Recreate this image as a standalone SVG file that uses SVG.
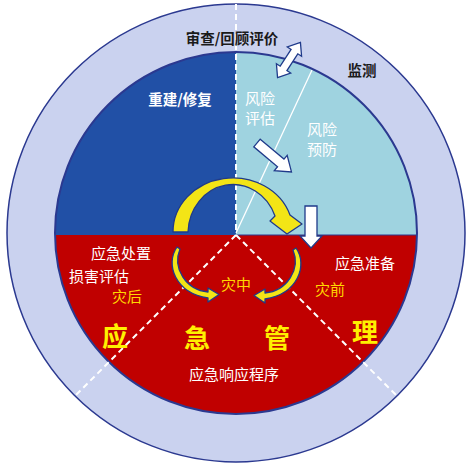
<svg xmlns="http://www.w3.org/2000/svg" width="475" height="476" viewBox="0 0 475 476">
<style>
.t{font-family:"Noto Sans CJK SC","Noto Sans",sans-serif;text-anchor:middle;dominant-baseline:central}
.w{fill:#ffffff;font-size:15px}
.wb{fill:#ffffff;font-size:14.5px;font-weight:bold}
.k{fill:#1a1a1a;font-size:14.5px;font-weight:bold}
.y{fill:#FFD800;font-size:15px}
.Y{fill:#FFF000;font-size:26px;font-weight:bold}
.dash{stroke:#ffffff;stroke-width:2;stroke-dasharray:6 4;fill:none}
.wa{fill:#ffffff;stroke:#1F3A8A;stroke-width:1.3;stroke-linejoin:miter}
.ya{fill:#F3E516;stroke:#1F3A8A;stroke-width:1.3;stroke-linejoin:round}
</style>
<defs>
<clipPath id="inner"><circle cx="236" cy="233" r="181"/></clipPath>
</defs>
<rect width="475" height="476" fill="#ffffff"/>
<g id="ring">
<circle cx="236" cy="233" r="229" fill="#CAD2EF" stroke="#2B3990" stroke-width="1.5"/>
</g>
<g id="sectors" clip-path="url(#inner)">
<rect x="0" y="235" width="475" height="241" fill="#C00000"/>
<rect x="0" y="0" width="236" height="235" fill="#2150A6"/>
<rect x="236" y="0" width="239" height="235" fill="#9FD3E0"/>
<line x1="236" y1="235" x2="418" y2="235" stroke="#2B3990" stroke-width="1"/>
<line x1="236" y1="233" x2="312.5" y2="69" stroke="#ffffff" stroke-width="1.3"/>
</g>
<circle cx="236" cy="233" r="181" fill="none" stroke="#2B3990" stroke-width="2"/>
<g id="dividers">
<line class="dash" x1="236" y1="4" x2="236" y2="234"/>
<line class="dash" x1="236" y1="235" x2="74" y2="397"/>
<line class="dash" x1="236" y1="235" x2="398" y2="397"/>
</g>
<g id="connectors">
<path class="ya" d="M173,232 A60,54 0 0 1 290,215 L302,224 L287,234 L270,221 L275,216 A45,49 0 0 0 188,232 Z"/>
<path id="small-left" class="ya" d="M177,247 C165,264 175,293 208,298 L208,302 L219,294.5 L208,288 L208,292 C186,290 172,268 180,249 Z"/>
<path class="ya" transform="translate(473,1) scale(-1,1)" d="M177,247 C165,264 175,293 208,298 L208,302 L219,294.5 L208,288 L208,292 C186,290 172,268 180,249 Z"/>
<polygon class="wa" transform="translate(289,60) rotate(-57)" points="-21,0 -10,-8.5 -10,-4 10,-4 10,-8.5 21,0 10,8.5 10,4 -10,4 -10,8.5"/>
<polygon class="wa" transform="translate(257,143) rotate(40)" points="0,-5 31,-5 31,-10 45,0 31,10 31,5 0,5"/>
<polygon class="wa" points="305,206 317,206 317,236 322,236 311,248 300,236 305,236"/>
</g>
<g id="labels">
<text class="t k" x="232" y="37">审查/回顾评价</text>
<text class="t k" x="362" y="69">监测</text>
<text id="rebuild" class="t wb" x="180" y="98">重建/修复</text>
<g id="risk-assess"><text class="t w" x="260" y="97">风险</text><text class="t w" x="260" y="117">评估</text></g>
<g id="risk-prevent"><text class="t w" x="322" y="128">风险</text><text class="t w" x="322" y="148">预防</text></g>
<text class="t w" x="121" y="252">应急处置</text>
<text class="t w" x="99" y="275">损害评估</text>
<text class="t y" x="127" y="295">灾后</text>
<text class="t y" x="236" y="283">灾中</text>
<text class="t y" x="330" y="288">灾前</text>
<text class="t w" x="365" y="262">应急准备</text>
<text class="t w" x="234" y="373">应急响应程序</text>
<text class="t Y" x="115" y="334">应</text>
<text class="t Y" x="197" y="336">急</text>
<text class="t Y" x="277" y="336">管</text>
<text class="t Y" x="365" y="330">理</text>
</g>
</svg>
